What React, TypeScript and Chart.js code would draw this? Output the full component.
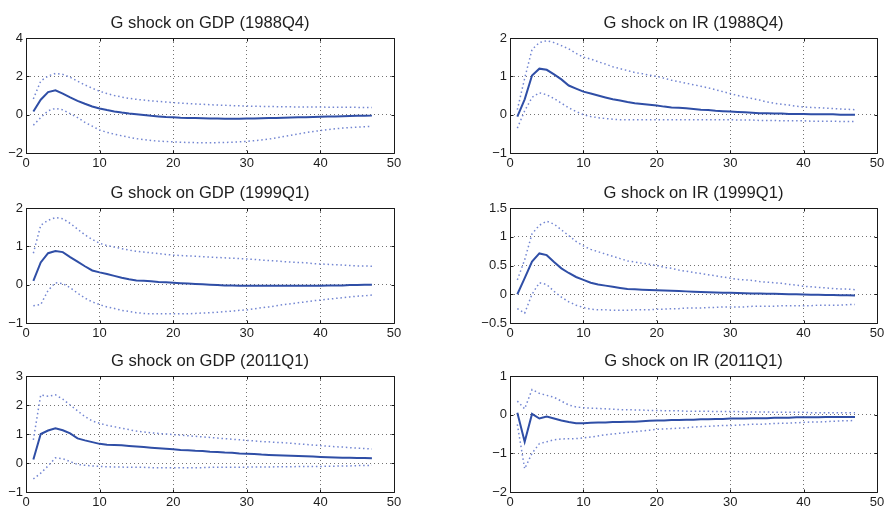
import React, { useEffect, useRef } from "react";
import { Chart, registerables } from "chart.js";

Chart.register(...registerables);

// ---------- data ----------
const periods = [1, 2, 3, 4, 5, 6, 7, 8, 9, 10, 11, 12, 13, 14, 15, 16, 17, 18, 19, 20, 21, 22, 23, 24, 25, 26, 27, 28, 29, 30, 31, 32, 33, 34, 35, 36, 37, 38, 39, 40, 41, 42, 43, 44, 45, 46, 47];

const xTicks = { min: 0, max: 50, step: 10 };

const titles = [
  "G shock on GDP (1988Q4)",
  "G shock on IR (1988Q4)",
  "G shock on GDP (1999Q1)",
  "G shock on IR (1999Q1)",
  "G shock on GDP (2011Q1)",
  "G shock on IR (2011Q1)",
];

const yRanges = [
  { min: -2, max: 4, step: 2 },
  { min: -1, max: 2, step: 1 },
  { min: -1, max: 2, step: 1 },
  { min: -0.5, max: 1.5, step: 0.5 },
  { min: -1, max: 3, step: 1 },
  { min: -2, max: 1, step: 1 },
];

// GDP 1988Q4
const gdp88Mid = [0.17, 0.78, 1.18, 1.27, 1.1, 0.9, 0.72, 0.57, 0.43, 0.32, 0.24, 0.17, 0.11, 0.06, 0.02, -0.02, -0.06, -0.09, -0.12, -0.14, -0.16, -0.17, -0.18, -0.19, -0.2, -0.2, -0.21, -0.21, -0.21, -0.2, -0.2, -0.19, -0.18, -0.17, -0.16, -0.15, -0.14, -0.13, -0.12, -0.11, -0.1, -0.09, -0.08, -0.07, -0.06, -0.06, -0.05];
const gdp88Up = [0.82, 1.75, 2.02, 2.15, 2.1, 1.95, 1.75, 1.55, 1.38, 1.22, 1.1, 1.0, 0.92, 0.85, 0.8, 0.76, 0.72, 0.69, 0.66, 0.63, 0.6, 0.58, 0.56, 0.54, 0.52, 0.5, 0.49, 0.47, 0.46, 0.45, 0.44, 0.43, 0.42, 0.42, 0.41, 0.41, 0.4, 0.4, 0.4, 0.4, 0.39, 0.39, 0.39, 0.39, 0.38, 0.38, 0.38];
const gdp88Lo = [-0.55, -0.15, 0.2, 0.33, 0.25, 0.05, -0.15, -0.4, -0.6, -0.8, -0.92, -1.02, -1.1, -1.18, -1.25, -1.3, -1.35, -1.38, -1.4, -1.42, -1.44, -1.45, -1.46, -1.46, -1.46, -1.46, -1.45, -1.44, -1.42, -1.39, -1.36, -1.32, -1.27, -1.21, -1.14, -1.07, -1.0, -0.94, -0.88, -0.83, -0.78, -0.74, -0.7, -0.67, -0.65, -0.63, -0.61];

// IR 1988Q4
const ir88Mid = [-0.05, 0.4, 1.02, 1.2, 1.17, 1.05, 0.92, 0.76, 0.68, 0.6, 0.55, 0.5, 0.45, 0.4, 0.37, 0.33, 0.3, 0.28, 0.26, 0.24, 0.21, 0.19, 0.18, 0.17, 0.15, 0.13, 0.12, 0.1, 0.09, 0.08, 0.07, 0.06, 0.05, 0.04, 0.04, 0.03, 0.03, 0.02, 0.02, 0.02, 0.01, 0.01, 0.01, 0.01, 0.0, 0.0, 0.0];
const ir88Up = [0.13, 0.95, 1.7, 1.88, 1.93, 1.88, 1.8, 1.72, 1.6, 1.5, 1.45, 1.38, 1.32, 1.25, 1.2, 1.15, 1.1, 1.07, 1.03, 1.0, 0.95, 0.9, 0.86, 0.82, 0.78, 0.74, 0.7, 0.65, 0.6, 0.55, 0.5, 0.46, 0.42, 0.38, 0.33, 0.3, 0.27, 0.25, 0.22, 0.2, 0.19, 0.18, 0.17, 0.16, 0.15, 0.14, 0.13];
const ir88Lo = [-0.35, 0.1, 0.45, 0.57, 0.52, 0.42, 0.3, 0.18, 0.08, 0.0, -0.05, -0.08, -0.1, -0.12, -0.13, -0.13, -0.13, -0.13, -0.13, -0.13, -0.13, -0.13, -0.13, -0.13, -0.13, -0.13, -0.13, -0.13, -0.13, -0.13, -0.14, -0.14, -0.14, -0.15, -0.15, -0.15, -0.16, -0.16, -0.16, -0.16, -0.17, -0.17, -0.17, -0.17, -0.18, -0.18, -0.18];

// GDP 1999Q1
const gdp99Mid = [0.1, 0.58, 0.82, 0.88, 0.85, 0.72, 0.6, 0.48, 0.37, 0.32, 0.28, 0.23, 0.18, 0.14, 0.11, 0.1, 0.09, 0.07, 0.06, 0.05, 0.04, 0.03, 0.02, 0.01, 0.0, -0.01, -0.02, -0.02, -0.03, -0.03, -0.03, -0.03, -0.03, -0.03, -0.03, -0.03, -0.03, -0.03, -0.03, -0.03, -0.02, -0.02, -0.02, -0.01, -0.01, 0.0, 0.0];
const gdp99Up = [0.82, 1.55, 1.68, 1.75, 1.72, 1.6, 1.45, 1.3, 1.18, 1.08, 1.02, 0.98, 0.94, 0.9, 0.87, 0.85, 0.83, 0.81, 0.79, 0.77, 0.76, 0.75, 0.74, 0.73, 0.72, 0.71, 0.7, 0.69, 0.68, 0.67, 0.66, 0.64, 0.63, 0.62, 0.6, 0.59, 0.58, 0.57, 0.55, 0.54, 0.53, 0.52, 0.51, 0.5, 0.49, 0.49, 0.48];
const gdp99Lo = [-0.55, -0.52, -0.15, 0.05, 0.03, -0.08, -0.22, -0.35, -0.45, -0.52, -0.58, -0.62, -0.67, -0.7, -0.73, -0.75, -0.76, -0.76, -0.76, -0.76, -0.76, -0.76, -0.75, -0.74, -0.73, -0.72, -0.7, -0.69, -0.67, -0.66, -0.63, -0.6, -0.58, -0.55, -0.52, -0.5, -0.47, -0.45, -0.42, -0.4, -0.38, -0.36, -0.34, -0.32, -0.3, -0.29, -0.27];

// IR 1999Q1
const ir99Mid = [0.0, 0.28, 0.57, 0.71, 0.68, 0.56, 0.45, 0.37, 0.3, 0.25, 0.2, 0.17, 0.15, 0.13, 0.11, 0.09, 0.085, 0.08, 0.075, 0.07, 0.065, 0.06, 0.055, 0.05, 0.045, 0.04, 0.035, 0.03, 0.027, 0.024, 0.02, 0.018, 0.015, 0.012, 0.01, 0.008, 0.005, 0.002, 0.0, -0.005, -0.008, -0.01, -0.012, -0.014, -0.016, -0.018, -0.02];
const ir99Up = [0.25, 0.6, 1.05, 1.2, 1.27, 1.22, 1.12, 1.02, 0.92, 0.84, 0.78, 0.74, 0.7, 0.66, 0.62, 0.58, 0.56, 0.54, 0.52, 0.5, 0.47, 0.45, 0.42, 0.4, 0.38, 0.36, 0.34, 0.32, 0.3, 0.28, 0.26, 0.25, 0.24, 0.22, 0.21, 0.2, 0.19, 0.17, 0.16, 0.14, 0.13, 0.12, 0.11, 0.1, 0.09, 0.09, 0.08];
const ir99Lo = [-0.25, -0.33, 0.0, 0.2, 0.17, 0.05, -0.05, -0.13, -0.19, -0.23, -0.26, -0.27, -0.27, -0.28, -0.28, -0.28, -0.27, -0.27, -0.27, -0.26, -0.26, -0.25, -0.25, -0.24, -0.24, -0.24, -0.23, -0.23, -0.22, -0.22, -0.22, -0.22, -0.21, -0.21, -0.21, -0.21, -0.2, -0.2, -0.2, -0.2, -0.2, -0.19, -0.19, -0.19, -0.19, -0.18, -0.18];

// GDP 2011Q1
const gdp11Mid = [0.12, 1.0, 1.12, 1.2, 1.13, 1.02, 0.85, 0.78, 0.72, 0.66, 0.63, 0.62, 0.61, 0.59, 0.57, 0.55, 0.53, 0.51, 0.49, 0.47, 0.45, 0.44, 0.42, 0.41, 0.39, 0.38, 0.36, 0.35, 0.33, 0.32, 0.31, 0.29, 0.28, 0.27, 0.26, 0.25, 0.24, 0.23, 0.22, 0.21, 0.2, 0.19, 0.18, 0.18, 0.17, 0.17, 0.16];
const gdp11Up = [0.8, 2.35, 2.3, 2.35, 2.2, 2.0, 1.8, 1.6, 1.45, 1.37, 1.3, 1.25, 1.2, 1.15, 1.1, 1.07, 1.04, 1.02, 1.0, 0.98, 0.96, 0.94, 0.92, 0.9, 0.88, 0.86, 0.84, 0.82, 0.8, 0.78, 0.76, 0.74, 0.73, 0.71, 0.7, 0.68, 0.66, 0.64, 0.62, 0.6, 0.58, 0.56, 0.55, 0.53, 0.51, 0.5, 0.48];
const gdp11Lo = [-0.55, -0.35, -0.1, 0.18, 0.15, 0.05, -0.05, -0.08, -0.1, -0.12, -0.13, -0.14, -0.14, -0.15, -0.15, -0.15, -0.16, -0.16, -0.16, -0.16, -0.16, -0.16, -0.16, -0.16, -0.15, -0.15, -0.15, -0.15, -0.15, -0.14, -0.14, -0.14, -0.14, -0.13, -0.13, -0.13, -0.12, -0.12, -0.12, -0.12, -0.11, -0.11, -0.1, -0.1, -0.09, -0.09, -0.08];

// IR 2011Q1
const ir11Mid = [0.05, -0.7, 0.02, -0.1, -0.05, -0.1, -0.15, -0.19, -0.22, -0.22, -0.21, -0.2, -0.2, -0.19, -0.19, -0.18, -0.18, -0.17, -0.16, -0.15, -0.15, -0.14, -0.14, -0.13, -0.13, -0.12, -0.12, -0.11, -0.11, -0.1, -0.1, -0.1, -0.09, -0.09, -0.09, -0.08, -0.08, -0.08, -0.07, -0.07, -0.07, -0.07, -0.06, -0.06, -0.06, -0.06, -0.06];
const ir11Up = [0.35, 0.15, 0.65, 0.55, 0.5, 0.45, 0.35, 0.25, 0.2, 0.18, 0.17, 0.16, 0.15, 0.14, 0.13, 0.13, 0.12, 0.12, 0.11, 0.11, 0.1, 0.1, 0.1, 0.09, 0.09, 0.09, 0.09, 0.08, 0.08, 0.08, 0.08, 0.07, 0.07, 0.07, 0.07, 0.06, 0.06, 0.06, 0.06, 0.06, 0.05, 0.05, 0.05, 0.05, 0.05, 0.05, 0.05];
const ir11Lo = [-0.25, -1.4, -1.0, -0.75, -0.7, -0.65, -0.63, -0.62, -0.62, -0.6, -0.58, -0.55, -0.52, -0.5, -0.48, -0.46, -0.44, -0.42, -0.4, -0.38, -0.37, -0.36, -0.35, -0.34, -0.32, -0.31, -0.3, -0.29, -0.28, -0.28, -0.27, -0.26, -0.25, -0.25, -0.24, -0.23, -0.22, -0.22, -0.21, -0.2, -0.19, -0.19, -0.18, -0.17, -0.16, -0.16, -0.15];

const seriesSets = [
  [gdp88Lo, gdp88Up, gdp88Mid],
  [ir88Lo, ir88Up, ir88Mid],
  [gdp99Lo, gdp99Up, gdp99Mid],
  [ir99Lo, ir99Up, ir99Mid],
  [gdp11Lo, gdp11Up, gdp11Mid],
  [ir11Lo, ir11Up, ir11Mid],
];

// ---------- layout / style ----------
const FONT = "'Liberation Sans', Arial, Helvetica, sans-serif";
const TEXT = "#1e1e1e";
const MAIN = "#2f4ea6";
const BAND = "#7386d2";

const colAreas = [
  { left: 26, right: 394 },
  { left: 510, right: 877 },
];
const rowAreas = [
  { top: 38, bottom: 153 },
  { top: 208, bottom: 323 },
  { top: 376, bottom: 492 },
];
const TOP_SPACE = 38;
const X_AXIS_H = 18;
const PAGE_W = 887;

function fmt(v: number): string {
  const r = Math.round(v * 1000) / 1000;
  return String(r).replace("-", "\u2212");
}

const framePlugin = {
  id: "frame",
  afterDraw(chart: any, _args: any, opts: any) {
    const { ctx, chartArea: a } = chart;
    const L = Math.round(a.left) + 0.5;
    const T = Math.round(a.top) + 0.5;
    const R = Math.round(a.right) + 0.5;
    const B = Math.round(a.bottom) + 0.5;
    ctx.save();
    ctx.strokeStyle = "#1a1a1a";
    ctx.lineWidth = 1;
    ctx.beginPath();
    ctx.rect(L, T, R - L, B - T);
    ctx.stroke();
    // inward tick marks
    const xs = chart.scales.x;
    const ys = chart.scales.y;
    const tl = 3;
    ctx.beginPath();
    xs.ticks.forEach((t: any) => {
      const px = Math.round(xs.getPixelForValue(t.value)) + 0.5;
      ctx.moveTo(px, B);
      ctx.lineTo(px, B - tl);
      ctx.moveTo(px, T);
      ctx.lineTo(px, T + tl);
    });
    ys.ticks.forEach((t: any) => {
      const py = Math.round(ys.getPixelForValue(t.value)) + 0.5;
      ctx.moveTo(L, py);
      ctx.lineTo(L + tl, py);
      ctx.moveTo(R, py);
      ctx.lineTo(R - tl, py);
    });
    ctx.stroke();
    ctx.fillStyle = TEXT;
    ctx.font = `16.6px ${FONT}`;
    ctx.textAlign = "center";
    ctx.textBaseline = "middle";
    ctx.fillText(opts.title, (a.left + a.right) / 2, a.top - 15);
    ctx.restore();
  },
};

function Panel({ idx }: { idx: number }) {
  const ref = useRef<HTMLCanvasElement>(null);
  const col = idx % 2;
  const row = Math.floor(idx / 2);
  const ca = colAreas[col];
  const ra = rowAreas[row];
  const yW = col === 0 ? ca.left : 40;
  const cLeft = ca.left - yW;
  const cWidth = col === 0 ? 420 : PAGE_W - cLeft;
  const padRight = cLeft + cWidth - ca.right;
  const cTop = ra.top - TOP_SPACE;
  const cHeight = ra.bottom - ra.top + TOP_SPACE + X_AXIS_H;

  useEffect(() => {
    const [lo, up, mid] = seriesSets[idx];
    const yr = yRanges[idx];
    const toPts = (arr: number[]) => periods.map((p, i) => ({ x: p, y: arr[i] }));
    const band = (arr: number[]) => ({
      data: toPts(arr),
      borderColor: BAND,
      borderWidth: 1.5,
      borderDash: [1.5, 2.8],
      pointRadius: 0,
      tension: 0,
      fill: false,
    });
    const chart = new Chart(ref.current as HTMLCanvasElement, {
      type: "line",
      data: {
        datasets: [
          band(lo),
          band(up),
          {
            data: toPts(mid),
            borderColor: MAIN,
            borderWidth: 2,
            pointRadius: 0,
            tension: 0,
            fill: false,
          },
        ],
      },
      plugins: [framePlugin],
      options: {
        responsive: false,
        animation: false,
        devicePixelRatio: 1,
        layout: { padding: { top: TOP_SPACE, right: padRight, bottom: 0, left: 0 } },
        plugins: {
          legend: { display: false },
          tooltip: { enabled: false },
          frame: { title: titles[idx] },
        } as any,
        scales: {
          x: {
            type: "linear",
            min: xTicks.min,
            max: xTicks.max,
            grid: { color: "rgba(0,0,0,0.55)", lineWidth: 1, drawTicks: false },
            border: { display: false, dash: [1, 3] },
            ticks: {
              stepSize: xTicks.step,
              color: TEXT,
              font: { family: FONT, size: 13 },
              padding: 3,
              maxRotation: 0,
              autoSkip: false,
              callback: (v: any) => fmt(Number(v)),
            },
            afterFit: (s: any) => {
              s.height = X_AXIS_H;
              s.paddingLeft = 0;
              s.paddingRight = 0;
            },
          },
          y: {
            type: "linear",
            min: yr.min,
            max: yr.max,
            grid: { color: "rgba(0,0,0,0.55)", lineWidth: 1, drawTicks: false },
            border: { display: false, dash: [1, 3] },
            ticks: {
              stepSize: yr.step,
              color: TEXT,
              font: { family: FONT, size: 13 },
              padding: 3,
              autoSkip: false,
              callback: (v: any) => fmt(Number(v)),
            },
            afterFit: (s: any) => {
              s.width = yW;
              s.paddingTop = 0;
              s.paddingBottom = 0;
            },
          },
        },
      },
    });
    return () => chart.destroy();
  }, [idx]);

  return (
    <canvas
      ref={ref}
      width={cWidth}
      height={cHeight}
      style={{ position: "absolute", left: cLeft, top: cTop, width: cWidth, height: cHeight }}
    />
  );
}

export default function App() {
  return (
    <div
      style={{
        position: "fixed",
        left: 0,
        top: 0,
        width: 887,
        height: 510,
        background: "#ffffff",
        overflow: "hidden",
      }}
    >
      {titles.map((_, i) => (
        <Panel key={i} idx={i} />
      ))}
    </div>
  );
}
